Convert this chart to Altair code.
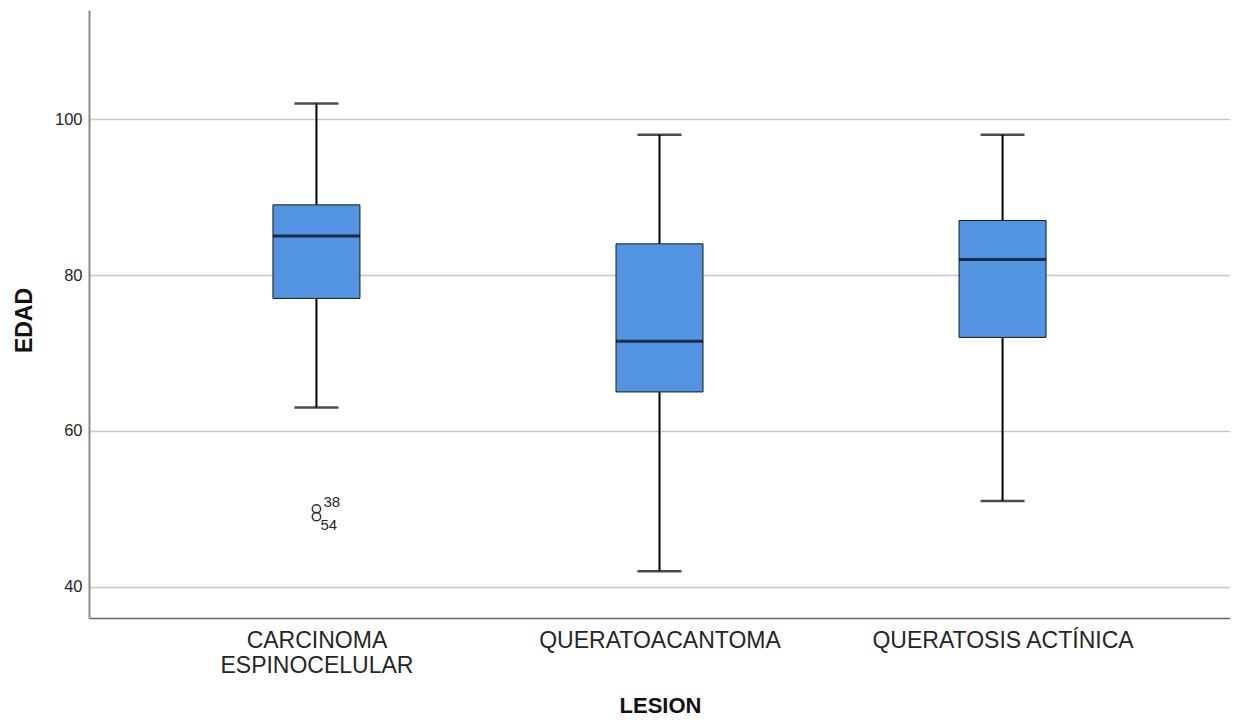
import altair as alt
import pandas as pd

# Box plot statistics
lesions = ["CARCINOMA ESPINOCELULAR", "QUERATOACANTOMA", "QUERATOSIS ACTÍNICA"]
whisker_low = [63, 42, 51]
q1 = [77, 65, 72]
median = [85, 71.5, 82]
q3 = [89, 84, 87]
whisker_high = [102, 98, 98]

# Outliers
outlier_lesion = ["CARCINOMA ESPINOCELULAR", "CARCINOMA ESPINOCELULAR"]
outlier_value = [50, 49]
outlier_label = ["38", "54"]

y_ticks = [40, 60, 80, 100]

box_df = pd.DataFrame({
    "LESION": lesions,
    "lo": whisker_low,
    "q1": q1,
    "med": median,
    "q3": q3,
    "hi": whisker_high,
})
out_df = pd.DataFrame({
    "LESION": outlier_lesion,
    "EDAD": outlier_value,
    "id": outlier_label,
})

FONT = "Liberation Sans"

x_enc = alt.X(
    "LESION:N",
    sort=lesions,
    scale=alt.Scale(type="point", padding=0.663),
    axis=alt.Axis(
        title="LESION",
        titleFontSize=22,
        titleFontWeight="bold",
        titleFont=FONT,
        titleColor="#111111",
        titleX=571,
        titleY=87,
        titleBaseline="middle",
        titleAlign="center",
        labelFont=FONT,
        labelFontSize=23,
        labelColor="#262626",
        labelAngle=0,
        labelBaseline="top",
        labelPadding=11,
        labelLineHeight=25,
        labelLimit=0,
        labelExpr="datum.label == 'CARCINOMA ESPINOCELULAR' ? ['CARCINOMA', 'ESPINOCELULAR'] : datum.label",
        ticks=False,
        grid=False,
        domainColor="#666666",
        domainWidth=1.5,
    ),
)

y_scale = alt.Scale(domain=[36, 114], nice=False, zero=False)

base = alt.Chart(box_df)

grid_axis = alt.Axis(
    title="EDAD",
    titleFontSize=23,
    titleFontWeight="bold",
    titleFont=FONT,
    titleColor="#111111",
    titleX=-65,
    titleY=310,
    titleAngle=270,
    titleAlign="center",
    titleBaseline="middle",
    values=y_ticks,
    labelFont=FONT,
    labelFontSize=16.5,
    labelColor="#262626",
    labelPadding=7,
    ticks=False,
    grid=True,
    gridColor="#c6c6c6",
    gridWidth=1.5,
    domainColor="#8a8a8a",
    domainWidth=2,
)

whiskers = base.mark_rule(color="#000000", strokeWidth=2).encode(
    x=x_enc,
    y=alt.Y("lo:Q", scale=y_scale, axis=grid_axis),
    y2="hi:Q",
)

caps_hi = base.mark_tick(color="#000000", size=44, thickness=2.5).encode(
    x=alt.X("LESION:N", sort=lesions),
    y=alt.Y("hi:Q"),
)
caps_lo = base.mark_tick(color="#000000", size=44, thickness=2.5).encode(
    x=alt.X("LESION:N", sort=lesions),
    y=alt.Y("lo:Q"),
)

boxes = base.mark_bar(size=87, color="#5294E2", stroke="#1a1a1a", strokeWidth=1).encode(
    x=alt.X("LESION:N", sort=lesions),
    y=alt.Y("q1:Q"),
    y2="q3:Q",
)

medians = base.mark_tick(color="#000000", size=87, thickness=3).encode(
    x=alt.X("LESION:N", sort=lesions),
    y=alt.Y("med:Q"),
)

outs = alt.Chart(out_df).mark_point(
    shape="circle", filled=False, size=70, color="#333333", strokeWidth=1.5, opacity=1
).encode(
    x=alt.X("LESION:N", sort=lesions),
    y=alt.Y("EDAD:Q"),
)

lab_above = alt.Chart(out_df).transform_filter(alt.datum.id == "38").mark_text(
    align="left", baseline="middle", dx=7, dy=-7, font=FONT, fontSize=15, color="#262626"
).encode(
    x=alt.X("LESION:N", sort=lesions),
    y=alt.Y("EDAD:Q"),
    text="id:N",
)
lab_below = alt.Chart(out_df).transform_filter(alt.datum.id == "54").mark_text(
    align="left", baseline="middle", dx=4, dy=8, font=FONT, fontSize=15, color="#262626"
).encode(
    x=alt.X("LESION:N", sort=lesions),
    y=alt.Y("EDAD:Q"),
    text="id:N",
)

chart = alt.layer(
    whiskers, caps_hi, caps_lo, boxes, medians, outs, lab_above, lab_below
).properties(
    width=1141,
    height=608,
    background="white",
    autosize=alt.AutoSizeParams(type="none"),
    padding={"left": 81, "top": 2, "right": 0, "bottom": 100},
).configure_view(stroke=None, strokeWidth=0)

chart.save("out.html", embed_options={"renderer": "svg", "actions": False})
